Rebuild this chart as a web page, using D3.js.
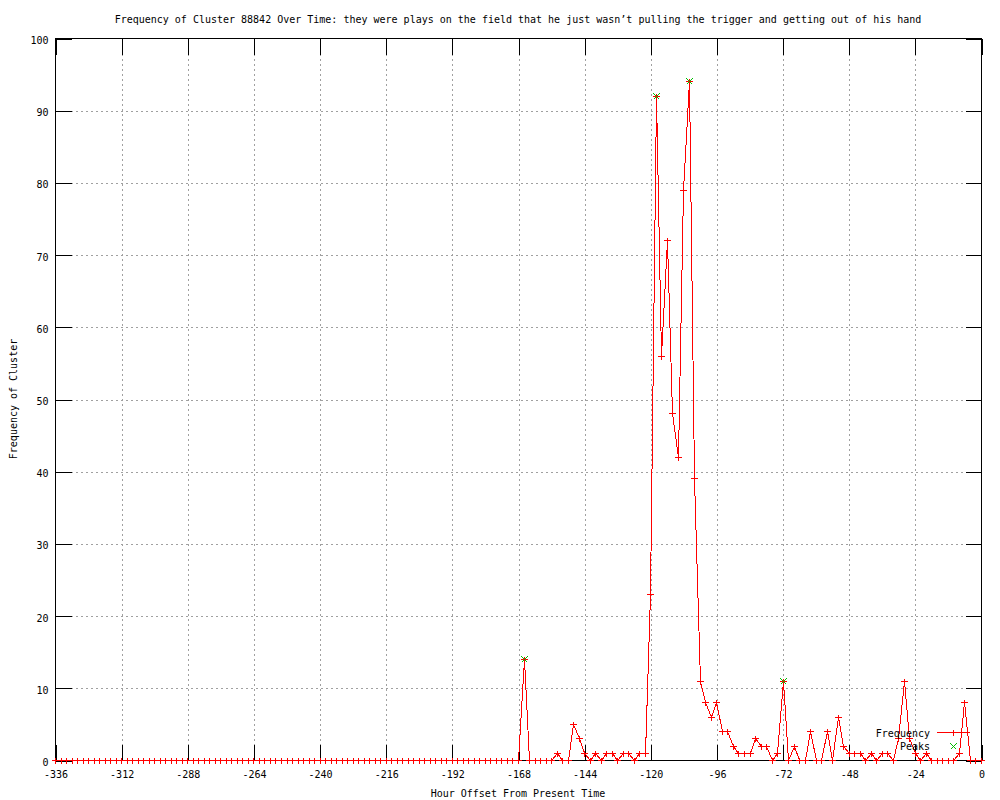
<!DOCTYPE html>
<html>
  <head>
	<meta charset="utf-8">
	<title>Frequency of Cluster 88842</title>
	<script src="https://d3js.org/d3.v7.min.js"></script>
	<style>
		body { margin: 0; background: white; }
		svg text {
			font-family: "DejaVu Sans Mono", "Liberation Mono", monospace;
			font-size: 10px;
			fill: #000;
		}
		.grid line {
			stroke: #a0a0a0;
			stroke-dasharray: 2,3;
			shape-rendering: crispEdges;
		}
		.grid path, .ticks path { display: none; }
		.ticks line {
			stroke: #000;
			shape-rendering: crispEdges;
		}
		.mark {
			fill: none;
			shape-rendering: crispEdges;
		}
	</style>
  </head>
  <body>
	<svg id="chart" width="1000" height="800"></svg>
	<script type="text/javascript">
		// hour offsets (every 2 hours) and cluster frequency at each
		var hours = [
			-336,-334,-332,-330,-328,-326,-324,-322,-320,-318,-316,-314,-312,-310,-308,-306,-304,-302,-300,-298,
			-296,-294,-292,-290,-288,-286,-284,-282,-280,-278,-276,-274,-272,-270,-268,-266,-264,-262,-260,-258,
			-256,-254,-252,-250,-248,-246,-244,-242,-240,-238,-236,-234,-232,-230,-228,-226,-224,-222,-220,-218,
			-216,-214,-212,-210,-208,-206,-204,-202,-200,-198,-196,-194,-192,-190,-188,-186,-184,-182,-180,-178,
			-176,-174,-172,-170,-168,-166,-164,-162,-160,-158,-156,-154,-152,-150,-148,-146,-144,-142,-140,-138,
			-136,-134,-132,-130,-128,-126,-124,-122,-120,-118,-116,-114,-112,-110,-108,-106,-104,-102,-100,-98,
			-96,-94,-92,-90,-88,-86,-84,-82,-80,-78,-76,-74,-72,-70,-68,-66,-64,-62,-60,-58,
			-56,-54,-52,-50,-48,-46,-44,-42,-40,-38,-36,-34,-32,-30,-28,-26,-24,-22,-20,-18,
			-16,-14,-12,-10,-8,-6,-4,-2,0
		];
		var frequency = [
			0,0,0,0,0,0,0,0,0,0,0,0,0,0,0,0,0,0,0,0,
			0,0,0,0,0,0,0,0,0,0,0,0,0,0,0,0,0,0,0,0,
			0,0,0,0,0,0,0,0,0,0,0,0,0,0,0,0,0,0,0,0,
			0,0,0,0,0,0,0,0,0,0,0,0,0,0,0,0,0,0,0,0,
			0,0,0,0,0,14,0,0,0,0,0,1,0,0,5,3,1,0,1,0,
			1,1,0,1,1,0,1,1,23,92,56,72,48,42,79,94,39,11,8,6,
			8,4,4,2,1,1,1,3,2,2,0,1,11,0,2,0,0,4,0,0,
			4,0,6,2,1,1,1,0,1,0,1,1,0,3,11,3,1,0,1,0,
			0,0,0,0,1,8,0,0,0
		];
		var peakHours = [-166, -118, -106, -72];

		var xTicks = [-336,-312,-288,-264,-240,-216,-192,-168,-144,-120,-96,-72,-48,-24,0];
		var yTicks = [0,10,20,30,40,50,60,70,80,90,100];

		var titleText = "Frequency of Cluster 88842 Over Time: they were plays on the field that he just wasn\u2019t pulling the trigger and getting out of his hand";
		var xLabel = "Hour Offset From Present Time";
		var yLabel = "Frequency of Cluster";

		var plot = {left: 55, right: 981, top: 38, bottom: 760};
		var tickLen = 16;

		var svg = d3.select("#chart");

		var xScale = d3.scaleLinear().domain([-336, 0]).range([plot.left, plot.right]);
		var yScale = d3.scaleLinear().domain([0, 100]).range([plot.bottom, plot.top]);

		var data = hours.map(function(h, i) { return {hour: h, value: frequency[i]}; });
		var peaks = peakHours.map(function(h) {
			return {hour: h, value: frequency[hours.indexOf(h)]};
		});

		var g = svg.append("g").attr("transform", "translate(0.5,0.5)");

		// grid
		g.append("g")
			.attr("class", "grid")
			.attr("transform", "translate(0," + plot.bottom + ")")
			.call(d3.axisBottom(xScale)
				.tickValues(xTicks.slice(1, -1))
				.tickSize(-(plot.bottom - plot.top))
				.tickFormat(""));
		g.append("g")
			.attr("class", "grid")
			.attr("transform", "translate(" + plot.left + ",0)")
			.call(d3.axisLeft(yScale)
				.tickValues(yTicks.slice(1, -1))
				.tickSize(-(plot.right - plot.left))
				.tickFormat(""));

		// ticks + labels
		g.append("g")
			.attr("class", "ticks")
			.attr("transform", "translate(0," + plot.bottom + ")")
			.call(d3.axisBottom(xScale)
				.tickValues(xTicks)
				.tickSize(-tickLen)
				.tickPadding(10)
				.tickFormat(function(d) { return String(d); }));
		g.append("g")
			.attr("class", "ticks")
			.attr("transform", "translate(0," + plot.top + ")")
			.call(d3.axisTop(xScale).tickValues(xTicks).tickSize(-tickLen).tickFormat(""));
		var yAxis = g.append("g")
			.attr("class", "ticks")
			.attr("transform", "translate(" + plot.left + ",0)")
			.call(d3.axisLeft(yScale)
				.tickValues(yTicks)
				.tickSize(-tickLen)
				.tickPadding(7)
				.tickFormat(function(d) { return String(d); }));
		yAxis.selectAll("text").attr("dy", "0.5em");
		g.append("g")
			.attr("class", "ticks")
			.attr("transform", "translate(" + plot.right + ",0)")
			.call(d3.axisRight(yScale).tickValues(yTicks).tickSize(-tickLen).tickFormat(""));

		svg.selectAll(".ticks text")
			.attr("font-family", null)
			.attr("font-size", null);

		// border
		g.append("rect")
			.attr("x", plot.left)
			.attr("y", plot.top)
			.attr("width", plot.right - plot.left)
			.attr("height", plot.bottom - plot.top)
			.attr("fill", "none")
			.attr("stroke", "#000")
			.attr("shape-rendering", "crispEdges");

		// frequency line
		var line = d3.line()
			.x(function(d) { return Math.round(xScale(d.hour)); })
			.y(function(d) { return Math.round(yScale(d.value)); });

		g.append("path")
			.datum(data)
			.attr("d", line)
			.attr("fill", "none")
			.attr("stroke", "#ff0000")
			.attr("stroke-width", 1)
			.attr("shape-rendering", "crispEdges");

		var plusPath = "M-3.5,0H3.5M0,-3V3";
		var crossPath = "M-3,-3L3,3M-3,3L3,-3";

		g.selectAll(".pt")
			.data(data)
			.enter().append("path")
			.attr("class", "pt mark")
			.attr("transform", function(d) {
				return "translate(" + Math.round(xScale(d.hour)) + "," + Math.round(yScale(d.value)) + ")";
			})
			.attr("d", plusPath)
			.attr("stroke", "#ff0000");

		g.selectAll(".peak")
			.data(peaks)
			.enter().append("path")
			.attr("class", "peak mark")
			.attr("transform", function(d) {
				return "translate(" + Math.round(xScale(d.hour)) + "," + Math.round(yScale(d.value)) + ")";
			})
			.attr("d", crossPath)
			.attr("stroke", "#00c000");

		// legend
		var legend = svg.append("g");
		legend.append("text")
			.attr("x", 930).attr("y", 737)
			.attr("text-anchor", "end")
			.text("Frequency");
		legend.append("line")
			.attr("x1", 937).attr("x2", 970)
			.attr("y1", 732.5).attr("y2", 732.5)
			.attr("stroke", "#ff0000");
		legend.append("path")
			.attr("class", "mark")
			.attr("transform", "translate(953.5,732.5)")
			.attr("d", plusPath)
			.attr("stroke", "#ff0000");
		legend.append("text")
			.attr("x", 930).attr("y", 750)
			.attr("text-anchor", "end")
			.text("Peaks");
		legend.append("path")
			.attr("class", "mark")
			.attr("transform", "translate(953.5,746.5)")
			.attr("d", crossPath)
			.attr("stroke", "#00c000");

		// titles
		svg.append("text")
			.attr("x", (plot.left + plot.right) / 2)
			.attr("y", 23)
			.attr("text-anchor", "middle")
			.text(titleText);
		svg.append("text")
			.attr("x", (plot.left + plot.right) / 2)
			.attr("y", 797)
			.attr("text-anchor", "middle")
			.text(xLabel);
		svg.append("text")
			.attr("transform", "translate(17," + ((plot.top + plot.bottom) / 2) + ") rotate(-90)")
			.attr("text-anchor", "middle")
			.text(yLabel);
	</script>
  </body>
</html>
